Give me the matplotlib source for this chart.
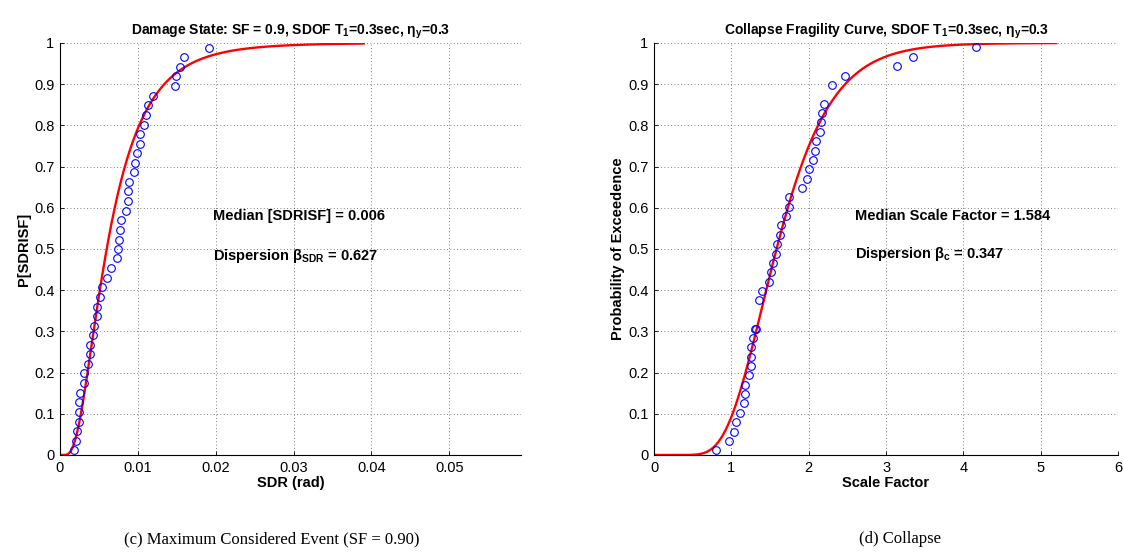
import math
import numpy as np
import matplotlib
matplotlib.use('Agg')
import matplotlib.pyplot as plt

plt.rcParams['font.family'] = ['Liberation Sans', 'DejaVu Sans']
plt.rcParams['mathtext.fontset'] = 'custom'
plt.rcParams['mathtext.rm'] = 'Liberation Sans'
plt.rcParams['mathtext.bf'] = 'Liberation Sans:bold'
plt.rcParams['mathtext.it'] = 'Liberation Sans:italic'
plt.rcParams['mathtext.default'] = 'bf'

# damage state (SF = 0.9): observed SDR vs. empirical probability
sdr = [0.00185, 0.0020, 0.0022, 0.0024, 0.0024, 0.0025, 0.0026, 0.0031, 0.0031, 0.0036,
       0.0039, 0.0039, 0.0042, 0.0044, 0.0048, 0.0048, 0.0052, 0.0054, 0.0061, 0.0066,
       0.0073, 0.0074, 0.0076, 0.0077, 0.0078, 0.0085, 0.0088, 0.0088, 0.0089, 0.0095,
       0.0096, 0.0099, 0.0103, 0.0103, 0.0108, 0.0111, 0.0113, 0.0119, 0.0148, 0.0149,
       0.0154, 0.0159, 0.0192]
p_sdr = [0.012, 0.035, 0.058, 0.081, 0.105, 0.128, 0.151, 0.174, 0.198, 0.221,
         0.244, 0.267, 0.291, 0.314, 0.337, 0.360, 0.384, 0.407, 0.430, 0.453,
         0.477, 0.500, 0.523, 0.547, 0.570, 0.593, 0.616, 0.640, 0.663, 0.686,
         0.709, 0.733, 0.756, 0.779, 0.802, 0.826, 0.849, 0.872, 0.895, 0.919,
         0.942, 0.965, 0.988]
median_sdr = 0.006
beta_sdr = 0.627
sdr_curve_max = 0.039

# collapse: scale factor vs. empirical probability
sf = [0.80, 0.97, 1.04, 1.06, 1.11, 1.16, 1.17, 1.17, 1.23, 1.25,
      1.25, 1.26, 1.28, 1.30, 1.32, 1.36, 1.40, 1.49, 1.51, 1.54,
      1.58, 1.59, 1.63, 1.64, 1.70, 1.74, 1.75, 1.91, 1.98, 2.00,
      2.05, 2.08, 2.10, 2.15, 2.16, 2.17, 2.20, 2.30, 2.47, 3.14,
      3.35, 4.16]
p_sf = [0.011, 0.034, 0.057, 0.079, 0.102, 0.125, 0.148, 0.170, 0.193, 0.216,
        0.239, 0.261, 0.284, 0.307, 0.307, 0.375, 0.397, 0.421, 0.443, 0.466,
        0.489, 0.511, 0.534, 0.557, 0.580, 0.603, 0.625, 0.648, 0.671, 0.693,
        0.716, 0.739, 0.761, 0.784, 0.807, 0.830, 0.852, 0.898, 0.921, 0.943,
        0.966, 0.989]
median_sf = 1.584
beta_sf = 0.347
sf_curve_max = 5.2


def lognorm_cdf(x, med, beta):
    return np.array([0.5 * (1 + math.erf(math.log(v / med) / (beta * math.sqrt(2)))) for v in x])


fig = plt.figure(figsize=(11.23, 5.58), dpi=100)
ax1 = fig.add_axes([0.0534, 0.1846, 0.4105, 0.7384])
ax2 = fig.add_axes([0.5824, 0.1846, 0.4132, 0.7384])


def style(ax):
    for s in ['top', 'right']:
        ax.spines[s].set_visible(False)
    for s in ['left', 'bottom']:
        ax.spines[s].set_linewidth(0.8)
    ax.grid(True, linestyle=(0, (1, 3)), color='#555555', linewidth=0.6)
    ax.tick_params(direction='in', length=3, labelsize=10.5, width=0.6, pad=4)
    ax.set_ylim(0, 1)
    ax.set_yticks(np.arange(0, 1.01, 0.1))
    ax.set_yticklabels(['0', '0.1', '0.2', '0.3', '0.4', '0.5', '0.6', '0.7', '0.8', '0.9', '1'])


# left panel
x1 = np.linspace(1e-6, sdr_curve_max, 500)
ax1.plot(x1, lognorm_cdf(x1, median_sdr, beta_sdr), color='red', lw=1.7, zorder=2)
ax1.plot(sdr, p_sdr, 'o', mfc='none', mec='blue', ms=5.5, mew=0.8, zorder=3)
style(ax1)
ax1.set_xlim(0, 0.0592)
ax1.set_xticks([0, 0.01, 0.02, 0.03, 0.04, 0.05])
ax1.set_xticklabels(['0', '0.01', '0.02', '0.03', '0.04', '0.05'])
ax1.set_title(r'Damage State: SF = 0.9, SDOF T$_{1}$=0.3sec, $\eta_{y}$=0.3',
              fontsize=10, fontweight='bold', pad=6)
ax1.set_xlabel('SDR (rad)', fontsize=10.5, fontweight='bold', labelpad=1)
ax1.set_ylabel('P[SDRISF]', fontsize=10.5, fontweight='bold', labelpad=2)
ax1.text(0.0196, 0.58, 'Median [SDRISF] = %.3f' % median_sdr, fontsize=10.5,
         fontweight='bold', va='center')
ax1.text(0.0196, 0.484, r'Dispersion $\beta_{SDR}$ = %.3f' % beta_sdr, fontsize=10.5,
         fontweight='bold', va='center')

# right panel
x2 = np.linspace(1e-6, sf_curve_max, 500)
ax2.plot(x2, lognorm_cdf(x2, median_sf, beta_sf), color='red', lw=1.7, zorder=2)
ax2.plot(sf, p_sf, 'o', mfc='none', mec='blue', ms=5.5, mew=0.8, zorder=3)
style(ax2)
ax2.set_xlim(0, 6)
ax2.set_xticks(range(7))
ax2.set_title(r'Collapse Fragility Curve, SDOF T$_{1}$=0.3sec, $\eta_{y}$=0.3',
              fontsize=10, fontweight='bold', pad=6)
ax2.set_xlabel('Scale Factor', fontsize=10.5, fontweight='bold', labelpad=1)
ax2.set_ylabel('Probability of Exceedence', fontsize=10.5, fontweight='bold', labelpad=2)
ax2.text(2.6, 0.58, 'Median Scale Factor = %.3f' % median_sf, fontsize=10.5,
         fontweight='bold', va='center')
ax2.text(2.6, 0.487, r'Dispersion $\beta_{c}$ = %.3f' % beta_sf, fontsize=10.5,
         fontweight='bold', va='center')

# captions
fig.text(272 / 1123, 1 - 539 / 558, '(c) Maximum Considered Event (SF = 0.90)',
         family='Liberation Serif', fontsize=12, ha='center', va='center')
fig.text(900 / 1123, 1 - 539 / 558, '(d) Collapse',
         family='Liberation Serif', fontsize=12, ha='center', va='center')

fig.savefig('out.png', dpi=100)
